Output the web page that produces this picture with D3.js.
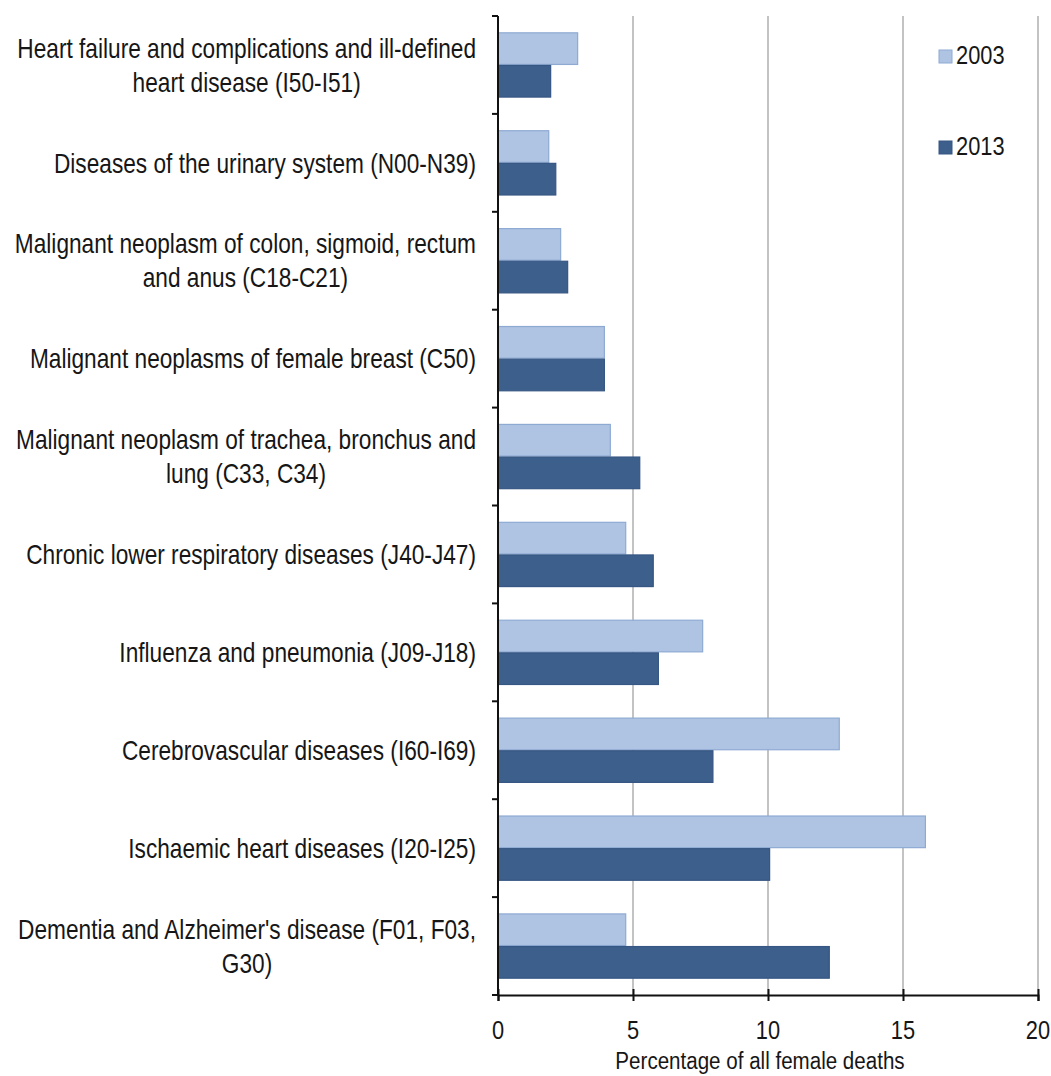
<!DOCTYPE html>
<html>
<head>
<meta charset="utf-8">
<script src="https://cdn.jsdelivr.net/npm/d3@7"></script>
<style>
  html, body { margin: 0; padding: 0; background: #ffffff; }
  svg { display: block; }
  text { font-family: "Liberation Sans", Arial, sans-serif; fill: #161616; }
</style>
</head>
<body>
<script>
// Leading causes of female deaths, share of all female deaths (%), 2003 vs 2013
const categories = [
  "Heart failure and complications and ill-defined\nheart disease (I50-I51)",
  "Diseases of the urinary system (N00-N39)",
  "Malignant neoplasm of colon, sigmoid, rectum\nand anus (C18-C21)",
  "Malignant neoplasms of female breast (C50)",
  "Malignant neoplasm of trachea, bronchus and\nlung (C33, C34)",
  "Chronic lower respiratory diseases (J40-J47)",
  "Influenza and pneumonia (J09-J18)",
  "Cerebrovascular diseases (I60-I69)",
  "Ischaemic heart diseases (I20-I25)",
  "Dementia and Alzheimer's disease (F01, F03,\nG30)"
];
const seriesNames = ["2003", "2013"];
const values2003 = [2.95, 1.88, 2.32, 3.94, 4.16, 4.73, 7.58, 12.64, 15.83, 4.73];
const values2013 = [1.95, 2.14, 2.58, 3.94, 5.25, 5.75, 5.94, 7.96, 10.06, 12.27];
const xTicks = [0, 5, 10, 15, 20];
const xTitle = "Percentage of all female deaths";

const W = 1051, H = 1076;
const plot = { left: 498, right: 1038, top: 16, bottom: 995 };
const colors = { "2003": "#afc4e2", "2013": "#3d5f8b" };
const strokes = { "2003": "#8eaad3", "2013": "#365683" };
const narrow = 0.84; // horizontal squeeze giving a narrow sans face

const svg = d3.select("body").append("svg").attr("width", W).attr("height", H);

// text placed at (px, py) and squeezed horizontally around that point
function narrowText(parent, px, py, str, size, anchor) {
  return parent.append("g")
    .attr("transform", `translate(${px},${py}) scale(${narrow},1)`)
    .append("text")
    .attr("font-size", size)
    .attr("text-anchor", anchor || "middle")
    .attr("dominant-baseline", "central")
    .text(str);
}

const x = d3.scaleLinear().domain([0, 20]).range([plot.left, plot.right]);
const y = d3.scaleBand().domain(categories).range([plot.top, plot.bottom])
  .paddingInner(1 / 3).paddingOuter(1 / 6);
const ySub = d3.scaleBand().domain(seriesNames).range([0, y.bandwidth()]);

// vertical gridlines
svg.append("g").selectAll("line")
  .data(xTicks.filter(d => d > 0))
  .join("line")
  .attr("x1", d => x(d)).attr("x2", d => x(d))
  .attr("y1", plot.top).attr("y2", plot.bottom)
  .attr("stroke", "#c3c3c3").attr("stroke-width", 2);

// bars
const rows = categories.map((c, i) => ({ c, v: { "2003": values2003[i], "2013": values2013[i] } }));
const groups = svg.append("g").selectAll("g")
  .data(rows).join("g")
  .attr("transform", d => `translate(0,${y(d.c)})`);
groups.selectAll("rect")
  .data(d => seriesNames.map(s => ({ s, v: d.v[s] })))
  .join("rect")
  .attr("x", x(0))
  .attr("y", d => ySub(d.s) + 0.5)
  .attr("width", d => x(d.v) - x(0))
  .attr("height", ySub.bandwidth() - 1)
  .attr("fill", d => colors[d.s])
  .attr("stroke", d => strokes[d.s])
  .attr("stroke-width", 1.2);

// y axis line and boundary ticks
const yAxis = svg.append("g");
yAxis.append("line")
  .attr("x1", plot.left).attr("x2", plot.left)
  .attr("y1", plot.top).attr("y2", plot.bottom)
  .attr("stroke", "#111").attr("stroke-width", 2);
const bounds = d3.range(categories.length + 1).map(i => plot.top + i * y.step());
yAxis.selectAll("line.tick")
  .data(bounds).join("line").attr("class", "tick")
  .attr("x1", plot.left - 6).attr("x2", plot.left)
  .attr("y1", d => d).attr("y2", d => d)
  .attr("stroke", "#111").attr("stroke-width", 2);

// category labels: lines centred within a right-aligned block
const labelRight = 476, lineGap = 34, labelSize = 27;
categories.forEach(c => {
  const lines = c.split("\n");
  const g = svg.append("g");
  const cy = y(c) + y.bandwidth() / 2;
  const texts = lines.map((ln, k) =>
    narrowText(g, 0, cy + (k - (lines.length - 1) / 2) * lineGap, ln, labelSize));
  const wMax = d3.max(texts, t => t.node().getComputedTextLength()) * narrow;
  g.attr("transform", `translate(${labelRight - wMax / 2},0)`);
});

// x axis
const xAxis = svg.append("g").attr("transform", `translate(0,${plot.bottom})`)
  .call(d3.axisBottom(x).tickValues(xTicks).tickSize(6).tickFormat(""));
xAxis.select(".domain").attr("stroke", "#111").attr("stroke-width", 2);
xAxis.selectAll(".tick line").attr("y1", -6).attr("y2", 6).attr("stroke", "#111").attr("stroke-width", 2);
const tickLabels = svg.append("g");
xTicks.forEach(t => narrowText(tickLabels, x(t), plot.bottom + 35, d3.format("d")(t), 26));

narrowText(svg, (plot.left + plot.right) / 2 - 8, 1061, xTitle, 24.5);

// legend
const legend = svg.append("g").selectAll("g")
  .data(seriesNames).join("g")
  .attr("transform", (d, i) => `translate(939,${50 + i * 91})`);
legend.append("rect")
  .attr("width", 13).attr("height", 13)
  .attr("fill", d => colors[d]).attr("stroke", d => strokes[d]).attr("stroke-width", 1);
legend.each(function (d) {
  narrowText(d3.select(this), 17, 5, d, 26, "start");
});
</script>
</body>
</html>
